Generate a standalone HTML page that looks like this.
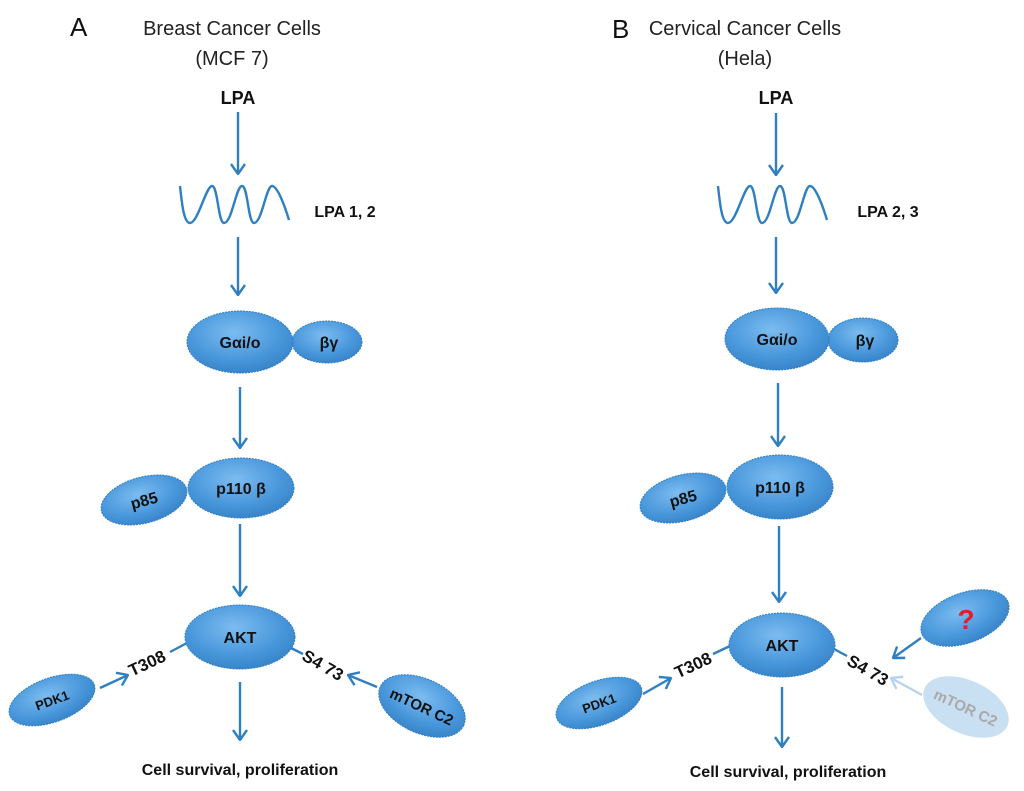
<!DOCTYPE html>
<html><head><meta charset="utf-8"><style>
html,body{margin:0;padding:0;background:#fff;}
svg{display:block;}
text{font-family:"Liberation Sans",sans-serif;}
</style></head><body>
<svg width="1024" height="791" viewBox="0 0 1024 791" xmlns="http://www.w3.org/2000/svg">
<defs>
<radialGradient id="g" cx="45%" cy="35%" r="70%">
<stop offset="0" stop-color="#7cbcf0"/><stop offset="0.6" stop-color="#4a98dc"/><stop offset="1" stop-color="#3580c6"/>
</radialGradient>
<marker id="ah" viewBox="0 0 12 16" refX="11" refY="8" markerWidth="12" markerHeight="16" orient="auto" markerUnits="userSpaceOnUse">
<path d="M1,1 L11,8 L1,15" fill="none" stroke="#2f7fc1" stroke-width="2.4"/>
</marker>
<marker id="ah2" viewBox="0 0 12 16" refX="11" refY="8" markerWidth="12" markerHeight="16" orient="auto" markerUnits="userSpaceOnUse">
<path d="M1,1 L11,8 L1,15" fill="none" stroke="#b6d3ec" stroke-width="2.4"/>
</marker>
</defs>
<g stroke="#2f7fc1" stroke-width="2.4" fill="none">
<line x1="238" y1="112" x2="238" y2="174" marker-end="url(#ah)"/>
<line x1="238" y1="237" x2="238" y2="295" marker-end="url(#ah)"/>
<line x1="240" y1="387" x2="240" y2="448" marker-end="url(#ah)"/>
<line x1="240" y1="524" x2="240" y2="596" marker-end="url(#ah)"/>
<line x1="240" y1="682" x2="240" y2="740" marker-end="url(#ah)"/>
<line x1="100" y1="688" x2="128" y2="675" marker-end="url(#ah)"/>
<line x1="377" y1="687" x2="348" y2="675" marker-end="url(#ah)"/>
<line x1="170" y1="652" x2="187" y2="643"/>
<line x1="289" y1="647" x2="303" y2="654"/>
<line x1="776" y1="113" x2="776" y2="175" marker-end="url(#ah)"/>
<line x1="776" y1="237" x2="776" y2="293" marker-end="url(#ah)"/>
<line x1="778" y1="383" x2="778" y2="446" marker-end="url(#ah)"/>
<line x1="779" y1="526" x2="779" y2="602" marker-end="url(#ah)"/>
<line x1="782" y1="687" x2="782" y2="747" marker-end="url(#ah)"/>
<line x1="643" y1="694" x2="671" y2="678" marker-end="url(#ah)"/>
<line x1="921" y1="638" x2="893" y2="658" marker-end="url(#ah)"/>
<line x1="713" y1="654" x2="730" y2="646"/>
<line x1="834" y1="649" x2="847" y2="656"/>
<line x1="922" y1="695" x2="891" y2="678" stroke="#b6d3ec" marker-end="url(#ah2)"/>
<path d="M180,186 C182,205 184,223 190,223 C198,223 206,186 212,186 C218,186 218,223 224,223 C232,223 236,186 242,186 C248,186 248,223 254,223 C262,223 266,186 272,186 C278,186 286,210 289,220"/>
<path d="M718,186 C720,205 722,223 728,223 C736,223 744,186 750,186 C756,186 756,223 762,223 C770,223 774,186 780,186 C786,186 786,223 792,223 C800,223 804,186 810,186 C816,186 824,210 827,220"/>
</g>
<g fill="url(#g)" stroke="#2f7fc1" stroke-width="1" stroke-dasharray="2,1">
<ellipse cx="327" cy="342" rx="35" ry="21"/>
<ellipse cx="240" cy="342" rx="53" ry="31"/>
<ellipse cx="144" cy="500" rx="44" ry="23" transform="rotate(-15 144 500)"/>
<ellipse cx="241" cy="488" rx="53" ry="30"/>
<ellipse cx="240" cy="637" rx="55" ry="32"/>
<ellipse cx="52" cy="700" rx="45" ry="22" transform="rotate(-20 52 700)"/>
<ellipse cx="422" cy="706" rx="46" ry="27" transform="rotate(25 422 706)"/>
<ellipse cx="863" cy="340" rx="35" ry="22"/>
<ellipse cx="777" cy="339" rx="52" ry="31"/>
<ellipse cx="683" cy="498" rx="44" ry="23" transform="rotate(-15 683 498)"/>
<ellipse cx="780" cy="487" rx="53" ry="32"/>
<ellipse cx="782" cy="645" rx="53" ry="32"/>
<ellipse cx="599" cy="703" rx="45" ry="22" transform="rotate(-20 599 703)"/>
<ellipse cx="965" cy="618" rx="46" ry="25" transform="rotate(-20 965 618)"/>
</g>
<ellipse cx="966" cy="707" rx="45" ry="26" transform="rotate(25 966 707)" fill="#c9dff2" stroke="#c9dff2"/>
<g font-weight="bold" fill="#111" font-size="16" text-anchor="middle">
<text x="238" y="104" font-size="18">LPA</text>
<text x="776" y="104" font-size="18">LPA</text>
<text x="345" y="217">LPA 1, 2</text>
<text x="888" y="217">LPA 2, 3</text>
<text x="240" y="348">Gαi/o</text>
<text x="329" y="348">βγ</text>
<text x="777" y="345">Gαi/o</text>
<text x="865" y="346">βγ</text>
<text x="241" y="494">p110 β</text>
<text x="144" y="506" transform="rotate(-15 144 500)">p85</text>
<text x="780" y="493">p110 β</text>
<text x="683" y="504" transform="rotate(-15 683 498)">p85</text>
<text x="240" y="643">AKT</text>
<text x="782" y="651">AKT</text>
<text x="52" y="705" font-size="13" transform="rotate(-20 52 700)">PDK1</text>
<text x="599" y="708" font-size="13" transform="rotate(-20 599 703)">PDK1</text>
<text x="422" y="712" font-size="15" transform="rotate(25 422 706)">mTOR C2</text>
<text x="966" y="713" font-size="15" fill="#a9a9a9" transform="rotate(25 966 707)">mTOR C2</text>
<text x="147" y="669" font-size="17" transform="rotate(-25 147 663)">T308</text>
<text x="693" y="671" font-size="17" transform="rotate(-25 693 665)">T308</text>
<text x="323" y="671" font-size="17" transform="rotate(30 323 665)">S4 73</text>
<text x="868" y="676" font-size="17" transform="rotate(30 868 670)">S4 73</text>
<text x="966" y="629" font-size="28" fill="#e0202a">?</text>
<text x="240" y="775" font-size="16">Cell survival, proliferation</text>
<text x="788" y="777" font-size="16">Cell survival, proliferation</text>
</g>
<g fill="#222" font-size="20" text-anchor="middle">
<text x="232" y="35">Breast Cancer Cells</text>
<text x="232" y="65">(MCF 7)</text>
<text x="745" y="35">Cervical Cancer Cells</text>
<text x="745" y="65">(Hela)</text>
</g>
<text x="70" y="36" font-family="Liberation Serif,serif" font-size="26" fill="#111">A</text>
<text x="612" y="38" font-family="Liberation Serif,serif" font-size="26" fill="#111">B</text>
</svg>
</body></html>
